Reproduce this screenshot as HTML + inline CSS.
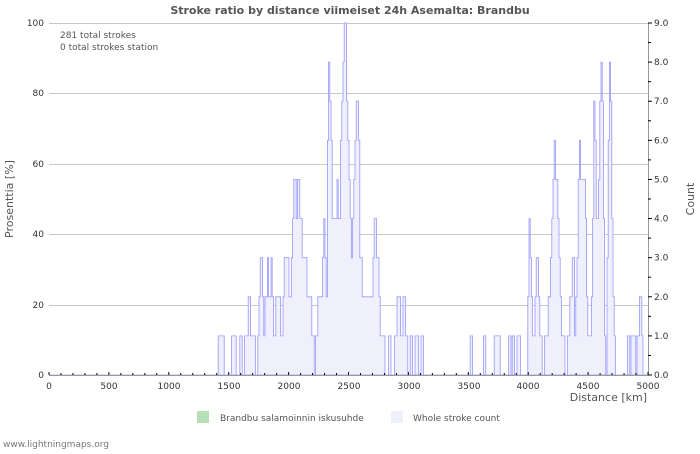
<!DOCTYPE html>
<html><head><meta charset="utf-8"><style>
body{margin:0;background:#fff;width:700px;height:450px;overflow:hidden;font-family:"DejaVu Sans","Liberation Sans",sans-serif}
</style></head><body>
<svg id="s" width="700" height="450" xmlns="http://www.w3.org/2000/svg" font-family="DejaVu Sans, Liberation Sans, sans-serif">
<rect width="700" height="450" fill="#fff"/>
<text x="350" y="14" text-anchor="middle" font-size="11" font-weight="bold" fill="#555">Stroke ratio by distance viimeiset 24h Asemalta: Brandbu</text>
<g stroke="#c8c8c8" stroke-width="1">
<line x1="49" y1="23.5" x2="648" y2="23.5"/>
<line x1="49" y1="93.5" x2="648" y2="93.5"/>
<line x1="49" y1="164.5" x2="648" y2="164.5"/>
<line x1="49" y1="234.5" x2="648" y2="234.5"/>
<line x1="49" y1="305.5" x2="648" y2="305.5"/>
</g>
<g id="data"></g>
<line x1="49" y1="375.5" x2="648" y2="375.5" stroke="#999"/>
<line x1="648.5" y1="23" x2="648.5" y2="375" stroke="#999"/>
<g id="ticks" stroke="#000" stroke-width="1"></g>
<g font-size="9" fill="#333">
<text x="44" y="26" text-anchor="end">100</text>
<text x="44" y="96" text-anchor="end">80</text>
<text x="44" y="167" text-anchor="end">60</text>
<text x="44" y="237" text-anchor="end">40</text>
<text x="44" y="308" text-anchor="end">20</text>
<text x="44" y="378" text-anchor="end">0</text>
<g id="rl"></g>
<text x="49" y="389" text-anchor="middle">0</text>
<text x="109" y="389" text-anchor="middle">500</text>
<text x="169" y="389" text-anchor="middle">1000</text>
<text x="229" y="389" text-anchor="middle">1500</text>
<text x="289" y="389" text-anchor="middle">2000</text>
<text x="349" y="389" text-anchor="middle">2500</text>
<text x="409" y="389" text-anchor="middle">3000</text>
<text x="469" y="389" text-anchor="middle">3500</text>
<text x="528" y="389" text-anchor="middle">4000</text>
<text x="588" y="389" text-anchor="middle">4500</text>
<text x="648" y="389" text-anchor="middle">5000</text>
</g>
<text x="647" y="401" text-anchor="end" font-size="11" fill="#555">Distance   [km]</text>
<text transform="translate(13,199) rotate(-90)" text-anchor="middle" font-size="11" fill="#555">Prosenttia   [%]</text>
<text transform="translate(694,199) rotate(-90)" text-anchor="middle" font-size="11" fill="#555">Count</text>
<text x="60" y="38" font-size="9" fill="#555">281 total strokes</text>
<text x="60" y="50" font-size="9" fill="#555">0 total strokes station</text>
<rect x="197" y="411" width="12" height="12" fill="#b8e0b8"/>
<text x="220" y="421" font-size="9" fill="#555">Brandbu salamoinnin iskusuhde</text>
<rect x="391" y="411" width="12" height="12" fill="#f0f0fc"/>
<text x="413" y="421" font-size="9" fill="#555">Whole stroke count</text>
<text x="3" y="447" font-size="9" fill="#777">www.lightningmaps.org</text>
</svg>
<script>
var ns="http://www.w3.org/2000/svg";
function el(t,a,p){var e=document.createElementNS(ns,t);for(var k in a)e.setAttribute(k,a[k]);p.appendChild(e);return e;}
var tk=document.getElementById('ticks');
for(var i=0;i<=50;i++){var x=49+i*599/50;el('line',{x1:x,y1:375,x2:x,y2:i%5?373:372},tk);}
var rl=document.getElementById('rl');
for(var i=0;i<=18;i++){var y=375-i*352/18;el('line',{x1:648,y1:y,x2:i%2?651:652,y2:y,stroke:'#000'},tk);
if(i%2==0){var t=el('text',{x:654,y:y+3},rl);t.textContent=(i/2).toFixed(1);}}
var K=[[217,0],[219,1],[222,1],[224,0],[230,0],[232,1],[235,1],[237,0],[241,1],[243,0],[246,1],[249,2],[251,1],[254,1],[256,0],[259,2],[261,3],[264,1],[267,3],[269,2],[271,3],[274,1],[276,2],[279,2],[282,1],[284,3],[287,3],[290,2],[292,4],[294,5],[296,4],[298,5],[300,4],[302,3],[305,3],[308,2],[310,2],[312,1],[314,0],[316,1],[318,2],[321,2],[324,4],[326,1],[328,8],[330,7],[332,4],[335,4],[337,5],[339,4],[341,6],[343,8],[345,9],[347,7],[349,5],[351,3],[353,4],[356,7],[358,7],[360,3],[362,2],[366,2],[371,2],[373,3],[375,4],[377,3],[379,2],[381,1],[383,1],[386,0],[389,1],[392,0],[395,1],[398,2],[401,1],[404,2],[406,1],[408,0],[410,1],[413,0],[416,1],[419,0],[422,1],[424,0],
[469,0],[471,1],[473,0],[482,0],[484,1],[486,0],[493,0],[494,1],[498,1],[500,0],[507,0],[509,1],[511,0],[513,1],[515,0],[517,1],[519,1],[521,0],[527,0],[529,4],[531,2],[533,1],[535,2],[537,4],[539,1],[541,1],[543,0],[545,1],[547,1],[549,2],[552,4],[554,6],[556,5],[559,3],[561,1],[563,1],[566,0],[570,2],[573,3],[575,1],[577,3],[579,6],[581,5],[584,5],[586,3],[588,1],[590,1],[592,3],[594,8],[596,4],[598,4],[600,7],[602,8],[604,2],[606,0],[608,6],[610,9],[612,4],[614,1],[616,0],[626,0],[628,1],[630,0],[632,1],[634,1],[636,0],[638,1],[640,2],[642,1],[644,0]];
var d="M49,375",w=1.2;
for(var x=49;x<648;x+=w){var c=0;
for(var j=0;j<K.length-1;j++){if(x>=K[j][0]&&x<K[j+1][0]){var a=K[j],b=K[j+1];var f=(x-a[0])/(b[0]-a[0]);if(b[0]-a[0]>6){c=0;}else c=Math.round(a[1]+(b[1]-a[1])*f);break;}}
var y=375-c*352/9;d+=" L"+x.toFixed(1)+","+y.toFixed(1)+" L"+(x+w).toFixed(1)+","+y.toFixed(1);}
d+=" L648,375 Z";
var g=document.getElementById('data');
el('path',{d:d,fill:'#f0f0fc',stroke:'none'},g);
el('path',{d:d,fill:'none',stroke:'#8080ff','stroke-width':'0.8','stroke-opacity':'0.8'},g);
</script>
</body></html>
